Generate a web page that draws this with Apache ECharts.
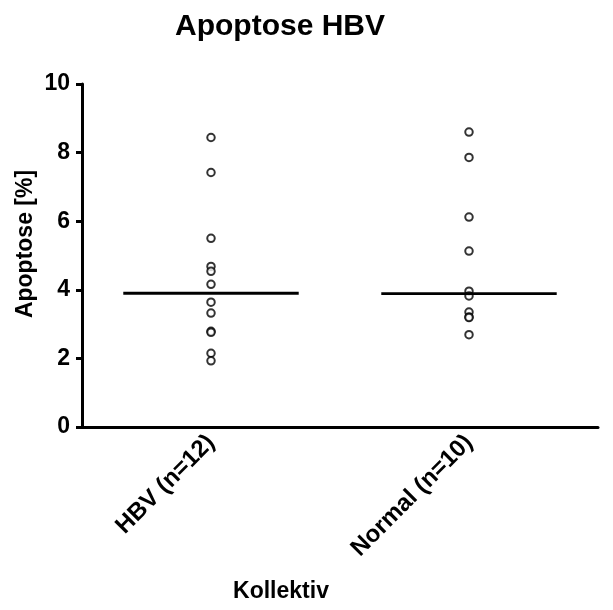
<!DOCTYPE html>
<html>
<head>
<meta charset="utf-8">
<script src="https://cdn.jsdelivr.net/npm/echarts@6/dist/echarts.min.js"></script>
<style>
  html, body { margin: 0; padding: 0; background: #fff; }
  #chart { width: 613px; height: 610px; }
</style>
</head>
<body>
<div id="chart"></div>
<script>
// Groups and individual apoptosis measurements (%)
const categories = ['HBV (n=12)', 'Normal (n=10)'];
const hbvValues = [8.44, 7.42, 5.50, 4.68, 4.54, 4.16, 3.64, 3.32, 2.79, 2.76, 2.15, 1.93];
const normalValues = [8.60, 7.86, 6.12, 5.13, 3.96, 3.82, 3.35, 3.21, 3.19, 2.69];
const yTicks = [0, 2, 4, 6, 8, 10];

function median(arr) {
  const s = arr.slice().sort((a, b) => a - b);
  const m = Math.floor(s.length / 2);
  return s.length % 2 ? s[m] : (s[m - 1] + s[m]) / 2;
}

const groups = [hbvValues, normalValues];
const pointData = [];
groups.forEach((vals, i) => vals.forEach(v => pointData.push([i, v])));
const medianData = groups.map((vals, i) => [i, median(vals)]);

const FONT = 'Liberation Sans, Arial, sans-serif';
const chart = echarts.init(document.getElementById('chart'));

chart.setOption({
  animation: false,
  backgroundColor: '#ffffff',
  grid: { left: 82, right: 15, top: 84, bottom: 183, containLabel: false },
  graphic: [
    { type: 'text', x: 280, y: 27,
      style: { text: 'Apoptose HBV', font: 'bold 30px ' + FONT, fill: '#000',
               align: 'center', verticalAlign: 'middle' } },
    { type: 'text', x: 281, y: 592,
      style: { text: 'Kollektiv', font: 'bold 23px ' + FONT, fill: '#000',
               align: 'center', verticalAlign: 'middle' } },
    { type: 'text', x: 26, y: 244, rotation: Math.PI / 2,
      style: { text: 'Apoptose [%]', font: 'bold 23px ' + FONT, fill: '#000',
               align: 'center', verticalAlign: 'middle' } }
  ],
  xAxis: {
    type: 'category',
    data: categories,
    boundaryGap: true,
    axisLine: { lineStyle: { color: '#000', width: 3 } },
    axisTick: { alignWithLabel: true, length: 6, lineStyle: { color: '#000', width: 3 } },
    axisLabel: { rotate: 45, color: '#000', fontFamily: FONT, fontWeight: 'bold', fontSize: 24, margin: 12 },
    splitLine: { show: false }
  },
  yAxis: {
    type: 'value',
    min: yTicks[0],
    max: yTicks[yTicks.length - 1],
    interval: 2,
    axisLine: { show: true, lineStyle: { color: '#000', width: 3 } },
    axisTick: { show: true, length: 6, lineStyle: { color: '#000', width: 3 } },
    axisLabel: { color: '#000', fontFamily: FONT, fontWeight: 'bold', fontSize: 23, margin: 12 },
    splitLine: { show: false }
  },
  series: [
    {
      type: 'scatter',
      data: pointData,
      symbol: 'circle',
      symbolSize: 7.5,
      itemStyle: { color: '#fff', borderColor: '#000', borderWidth: 2 },
      z: 3
    },
    {
      type: 'custom',
      data: medianData,
      z: 4,
      renderItem: function (params, api) {
        const c = api.coord([api.value(0), api.value(1)]);
        const band = api.size([1, 0])[0];
        const half = band * 0.34;
        return {
          type: 'line',
          shape: { x1: c[0] - half, y1: c[1], x2: c[0] + half, y2: c[1] },
          style: { stroke: '#000', lineWidth: 2.8 }
        };
      }
    }
  ]
});
</script>
</body>
</html>
